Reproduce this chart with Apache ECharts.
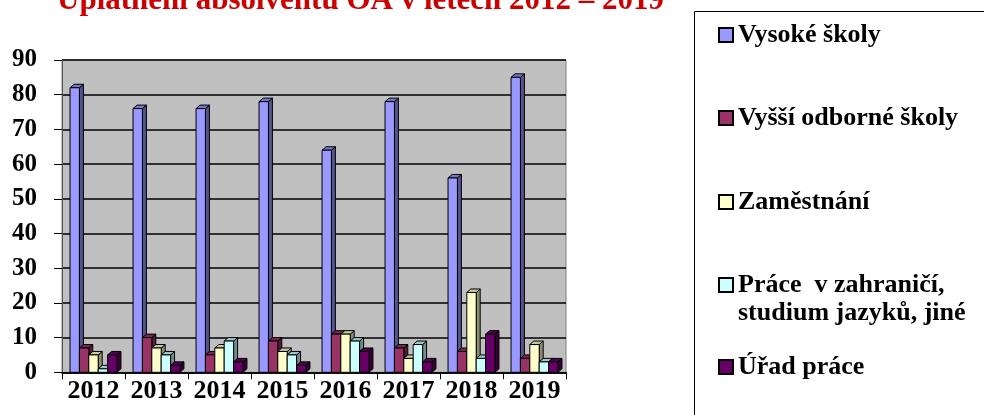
<!DOCTYPE html>
<html>
<head>
<meta charset="utf-8">
<script src="https://cdn.jsdelivr.net/npm/echarts@6/dist/echarts.min.js"></script>
<style>html,body{margin:0;padding:0;background:#fff}#c{width:984px;height:415px}</style>
</head>
<body>
<div id="c"></div>
<script>
const titleText = 'Uplatnění absolventů OA v letech 2012 – 2019';
const years = ['2012','2013','2014','2015','2016','2017','2018','2019'];
const seriesNames = ['Vysoké školy','Vyšší odborné školy','Zaměstnání','Práce  v zahraničí,\nstudium jazyků, jiné','Úřad práce'];
const vysokeSkoly = [82,76,76,78,64,78,56,85];
const vyssiOdborne = [7,10,5,9,11,7,6,4];
const zamestnani = [5,7,7,6,11,4,23,8];
const praceZahranici = [1,5,9,5,9,8,4,3];
const uradPrace = [5,2,3,2,6,3,11,3];
const yTicks = [0,10,20,30,40,50,60,70,80,90];

const allValues = [vysokeSkoly, vyssiOdborne, zamestnani, praceZahranici, uradPrace];
const colors = ['#9999FF','#993366','#FFFFCC','#CCFFFF','#660066'];
const FONT = 'Liberation Serif';
const BAR_RATIO = 0.149;
const DX = 4, DY = -3.5;

function shade(hex, f) {
  const n = parseInt(hex.slice(1), 16);
  const r = Math.round(((n >> 16) & 255) * f), g = Math.round(((n >> 8) & 255) * f), b = Math.round((n & 255) * f);
  return 'rgb(' + r + ',' + g + ',' + b + ')';
}

function renderItem(params, api) {
  const s = params.seriesIndex;
  const cat = api.value(0), val = api.value(1);
  const base = api.coord([cat, 0]);
  const top = api.coord([cat, val]);
  const band = api.size([1, 0])[0];
  const w = band * BAR_RATIO;
  const x0 = base[0] + (s - 2) * w - w / 2;
  const y0 = top[1], y1 = base[1];
  const c = colors[s];
  const stroke = {stroke: '#000', lineWidth: 1};
  return {
    type: 'group',
    children: [
      {type: 'polygon', shape: {points: [[x0 + w, y0], [x0 + w + DX, y0 + DY], [x0 + w + DX, y1 + DY], [x0 + w, y1]]},
        style: Object.assign({fill: shade(c, 0.55)}, stroke)},
      {type: 'polygon', shape: {points: [[x0, y0], [x0 + DX, y0 + DY], [x0 + w + DX, y0 + DY], [x0 + w, y0]]},
        style: Object.assign({fill: shade(c, 0.78)}, stroke)},
      {type: 'rect', shape: {x: x0, y: y0, width: w, height: y1 - y0},
        style: Object.assign({fill: c}, stroke)}
    ]
  };
}

const series = seriesNames.map((name, i) => ({
  name: name,
  type: 'custom',
  renderItem: renderItem,
  itemStyle: {color: colors[i]},
  encode: {x: 0, y: 1},
  data: allValues[i].map((v, j) => [j, v]),
  clip: false
}));

const legendTops = [21, 104, 188, 271, 353];
const legends = seriesNames.map((name, i) => {
  const two = name.indexOf('\n') >= 0;
  return {
    data: [{name: name, icon: two ? 'path://M0,0L14,0L14,14L0,14Z M0,42' : 'rect'}],
    orient: 'vertical',
    left: 718,
    top: legendTops[i],
    padding: 0,
    itemWidth: 14,
    itemHeight: two ? 42 : 14,
    itemGap: 0,
    selectedMode: false,
    itemStyle: {borderColor: '#000', borderWidth: 2},
    textStyle: {fontFamily: FONT, fontWeight: 'bold', fontSize: 26, lineHeight: 28, color: '#000'}
  };
});

const chart = echarts.init(document.getElementById('c'), null, {renderer: 'canvas'});
chart.setOption({
  animation: false,
  backgroundColor: '#fff',
  title: {
    text: titleText,
    left: 57,
    top: -15,
    padding: 0,
    textStyle: {fontFamily: FONT, fontWeight: 'bold', fontSize: 31, color: '#CC0000'}
  },
  graphic: [{
    type: 'rect', left: 692, top: 9, z: -1,
    shape: {width: 400, height: 500},
    style: {fill: 'none', stroke: '#000', lineWidth: 1}
  }],
  legend: legends,
  grid: {
    left: 62, right: 418, top: 60, bottom: 42.7,
    show: true, backgroundColor: '#C0C0C0', borderColor: '#808080', borderWidth: 1
  },
  xAxis: {
    type: 'category',
    data: years,
    axisLine: {lineStyle: {color: '#000', width: 1.5}},
    axisTick: {show: true, length: 7, lineStyle: {color: '#000'}},
    axisLabel: {interval: 0, fontFamily: FONT, fontWeight: 'bold', fontSize: 26, color: '#000', margin: 6}
  },
  yAxis: {
    type: 'value',
    min: yTicks[0], max: yTicks[yTicks.length - 1], interval: 10,
    axisLine: {show: true, lineStyle: {color: '#555', width: 1}},
    axisTick: {show: true, length: 8, lineStyle: {color: '#000'}},
    axisLabel: {fontFamily: FONT, fontWeight: 'bold', fontSize: 25, color: '#000', margin: 25},
    splitLine: {lineStyle: {color: '#000', width: 1.5}}
  },
  series: series
});
</script>
</body>
</html>
